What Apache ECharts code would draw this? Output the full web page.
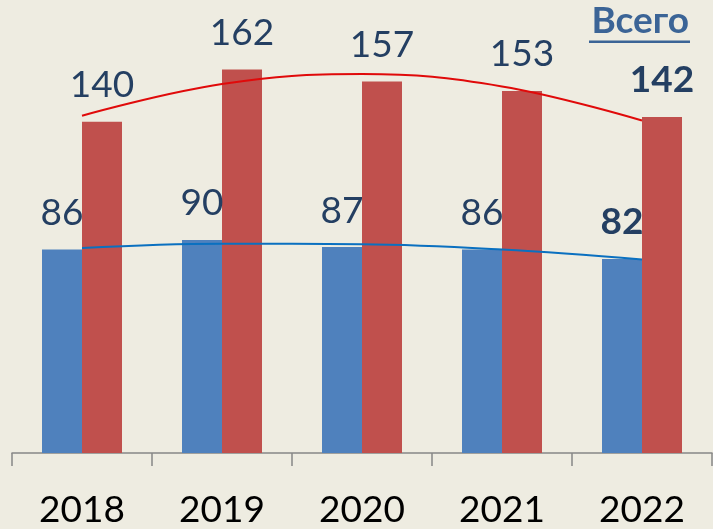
<!DOCTYPE html>
<html>
<head>
<meta charset="utf-8">
<script src="https://cdn.jsdelivr.net/npm/echarts@6/dist/echarts.min.js"></script>
<style>
html,body{margin:0;padding:0;background:#eeece1;}
#c{width:713px;height:529px;}
</style>
</head>
<body>
<div id="c"></div>
<script>
const categories = ['2018', '2019', '2020', '2021', '2022'];
const blueValues = [86, 90, 87, 86, 82];
const redValues = [140, 162, 157, 153, 142];
// trend lines at each category centre
const blueTrend = [86.6, 88.4, 88.2, 86.0, 81.8];
const redTrend = [142.5, 155.9, 160.1, 154.9, 140.5];
const totalLabel = 'Всего';

const FONT = 'Lato';
const labelColor = '#243f62';

function withBoldLast(arr) {
  return arr.map((v, i) => i === arr.length - 1
    ? { value: v, label: { fontWeight: 'bold' } }
    : v);
}

const chart = echarts.init(document.getElementById('c'), null, { renderer: 'canvas' });
chart.setOption({
  backgroundColor: '#eeece1',
  animation: false,
  grid: { left: 12, right: 1, top: 27, bottom: 72, containLabel: false },
  xAxis: {
    type: 'category',
    data: categories,
    boundaryGap: true,
    axisLine: { show: true, lineStyle: { color: '#878787', width: 1.5 } },
    axisTick: { show: true, length: 13, lineStyle: { color: '#878787', width: 1.5 } },
    axisLabel: { color: '#000', fontFamily: FONT, fontSize: 37, margin: 39 }
  },
  yAxis: {
    type: 'value', min: 0, max: 180, show: false,
    splitLine: { show: false }
  },
  series: [
    {
      type: 'bar', data: withBoldLast(blueValues), barWidth: 40, barGap: '0%',
      itemStyle: { color: '#4f81bd' },
      label: { show: true, position: 'top', distance: 18, color: labelColor, fontFamily: FONT, fontSize: 37 }
    },
    {
      type: 'bar', data: withBoldLast(redValues), barWidth: 40, barGap: '0%',
      itemStyle: { color: '#c0504d' },
      label: { show: true, position: 'top', distance: 18, color: labelColor, fontFamily: FONT, fontSize: 37 }
    },
    {
      type: 'line', data: blueTrend, smooth: 0.4, symbol: 'none', z: 5,
      lineStyle: { color: '#0a70c0', width: 2 }
    },
    {
      type: 'line', data: redTrend, smooth: 0.4, symbol: 'none', z: 5,
      lineStyle: { color: '#e00a0a', width: 2 }
    }
  ],
  graphic: [
    {
      type: 'text', right: 24, top: 3,
      style: { text: totalLabel, fill: '#3b6496', font: 'bold 37px Lato' }
    },
    {
      type: 'rect', left: 589, top: 40.5, shape: { width: 101, height: 2.5 },
      style: { fill: '#3b6496' }
    }
  ]
});
</script>
</body>
</html>
